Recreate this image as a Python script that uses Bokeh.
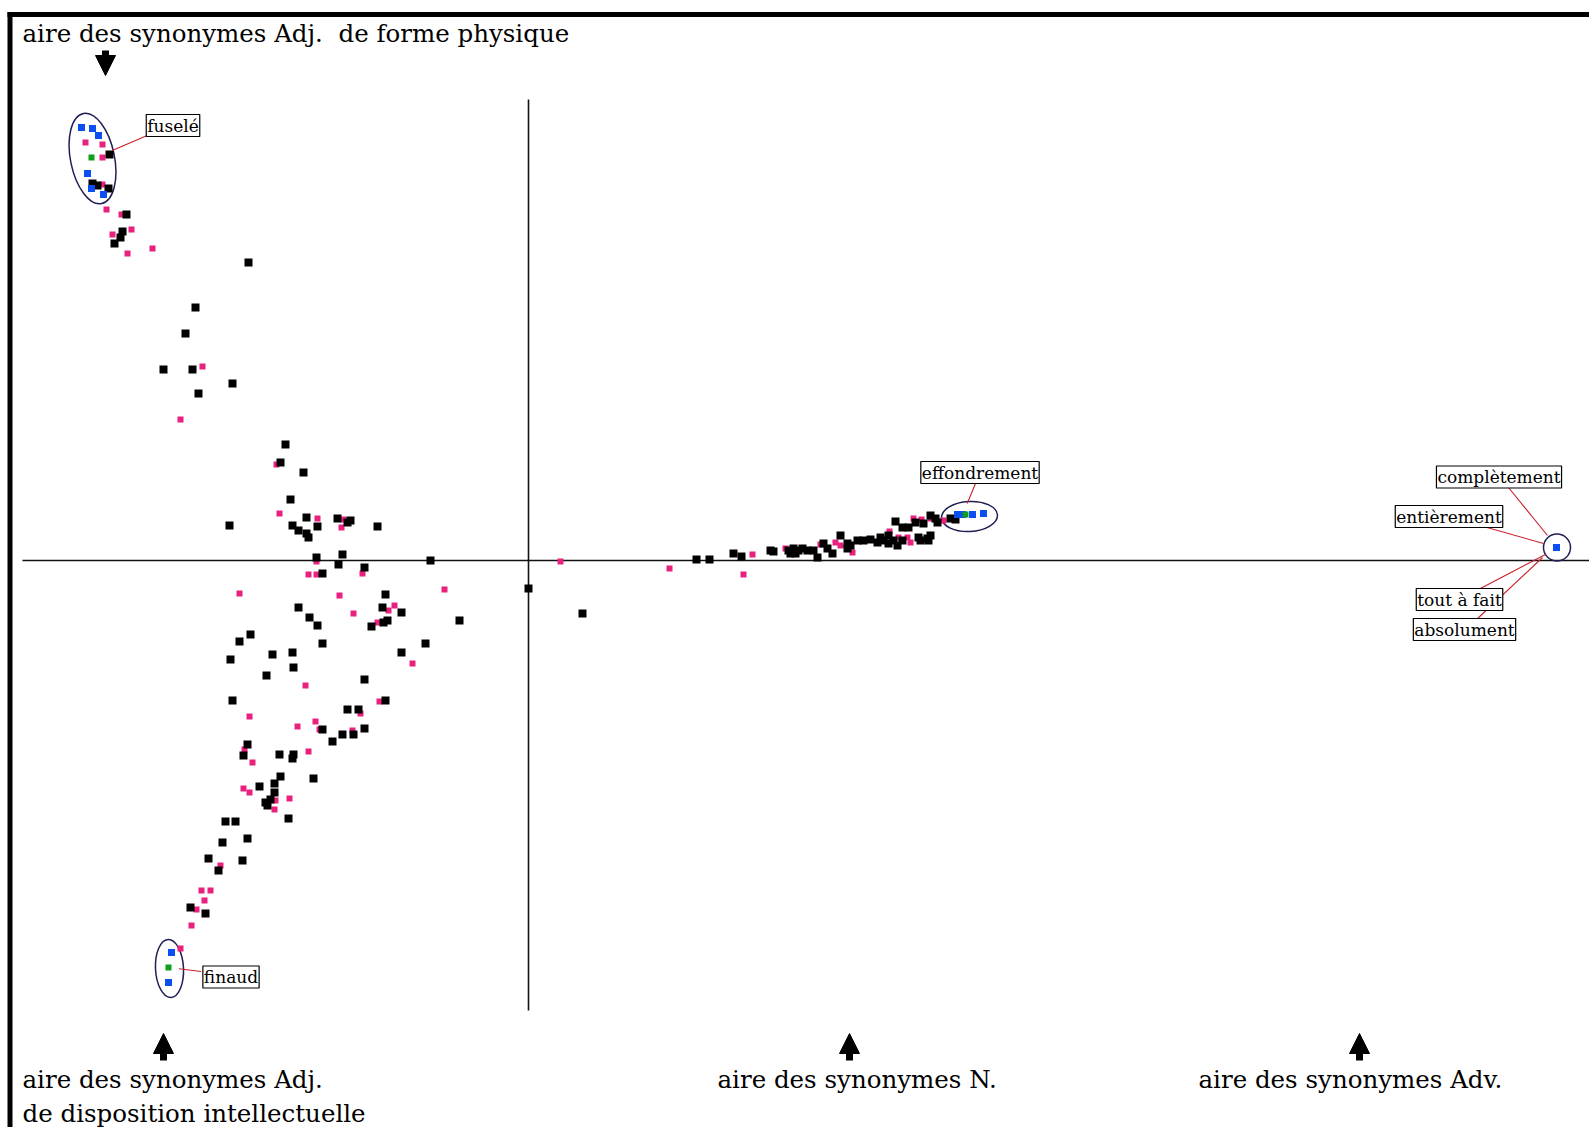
from bokeh.plotting import figure
from bokeh.models import Range1d, Label, Arrow, NormalHead
from bokeh.embed import file_html
from bokeh.resources import INLINE

# ---------------- data (factor coordinates, axis 1 = x, axis 2 = y) ----------------
black_x = [-4.19, -4.36, -4.31, -4.20, -4.02, -4.06, -4.08, -4.14,
           -2.80, -3.33, -3.43, -3.65, -3.36, -2.96, -3.30,
           -2.43, -2.48, -2.25, -2.38, -2.99, -2.36, -2.30, -2.22, -2.20, -2.22, -2.11,
           -1.91, -1.81, -1.78, -1.51,
           -2.12, -1.86, -1.90, -1.64, -0.98, -2.06,
           -1.43, -2.30, -1.46, -1.27, -2.19, -2.11, -1.45, -1.41, -1.57, -0.69, 0.00, 0.54,
           -1.03, -1.27, -1.64, -1.43, -1.81, -1.70, -1.64, -1.75, -1.86, -1.96, -2.06,
           -2.35, -2.36, -2.56, -2.62, -2.06, -2.78, -2.89, -2.98, -2.96,
           -2.81, -2.85, -2.49, -2.35, -2.36, -2.48, -2.15, -2.54, -2.69, -2.54, -2.58,
           -2.63, -2.61, -2.40, -3.03, -2.93, -3.06, -2.81, -3.20, -3.10, -2.86, -3.38, -3.23,
           1.68, 1.81, 2.05, 2.13, 2.42, 2.45, 2.60, 2.65, 2.70, 2.74, 2.62, 2.67, 2.79,
           2.85, 2.89, 2.95, 2.99, 3.04, 3.12, 3.19, 3.19, 3.22, 3.29, 3.35, 3.42, 3.49,
           3.52, 3.55, 3.60, 3.60, 3.65, 3.69, 3.74, 3.90, 3.92, 3.99, 4.02, 4.00,
           3.67, 3.74, 3.80, 3.87, 3.95, 4.02, 4.07, 4.09, 4.22, 4.27]
black_y = [4.06, 3.77, 3.75, 3.72, 3.46, 3.29, 3.23, 3.17,
           2.98, 2.53, 2.27, 1.91, 1.91, 1.77, 1.67,
           1.16, 0.98, 0.88, 0.61, 0.35, 0.35, 0.30, 0.27, 0.23, 0.43, 0.34,
           0.42, 0.38, 0.40, 0.34,
           0.03, 0.06, -0.04, -0.07, 0.00, -0.13,
           -0.34, -0.47, -0.47, -0.52, -0.57, -0.65, -0.62, -0.60, -0.66, -0.60, -0.28, -0.53,
           -0.83, -0.92, -1.19, -1.40, -1.49, -1.49, -1.68, -1.74, -1.74, -1.81, -1.69,
           -1.07, -0.92, -0.94, -1.15, -0.83, -0.74, -0.81, -0.99, -1.40,
           -1.84, -1.95, -1.94, -1.94, -1.98, -2.16, -2.18, -2.23, -2.26, -2.32, -2.39,
           -2.42, -2.45, -2.58, -2.61, -2.61, -2.82, -2.78, -2.98, -3.10, -3.00, -3.47, -3.53,
           0.01, 0.01, 0.07, 0.04, 0.10, 0.09, 0.10, 0.12, 0.10, 0.12, 0.07, 0.07, 0.10,
           0.10, 0.03, 0.17, 0.12, 0.07, 0.25, 0.12, 0.17, 0.15, 0.20, 0.20, 0.21, 0.18,
           0.23, 0.20, 0.25, 0.17, 0.20, 0.15, 0.20, 0.23, 0.20, 0.22, 0.25, 0.20,
           0.39, 0.33, 0.33, 0.38, 0.37, 0.45, 0.42, 0.38, 0.42, 0.41]

pink_x = [-4.43, -4.26, -4.26, -4.26, -4.22, -4.07, -3.97, -4.16, -4.01, -3.76,
          -3.26, -3.48,
          -2.52, -2.49, -2.11, -1.85, -1.87, -2.12, -1.66, -2.20, -2.12, -2.89, -1.89,
          -0.84, 0.32, -1.34, -1.40, -1.75, -1.51, -1.16, -1.49, -1.68, -1.76, -2.13,
          -2.31, -2.09, -2.23, -2.79, -2.84, -2.76, -2.20, -2.85, -2.79, -2.53, -2.39,
          -2.54, -3.08, -3.27, -3.18, -3.24, -3.32, -3.37, -3.48,
          1.41, 2.15, 2.24, 2.57, 2.92, 3.07, 3.12, 3.24, 3.61, 3.70, 3.79, 3.82,
          3.85, 3.93, 4.02, 4.15, 4.35]
pink_y = [4.18, 4.16, 4.03, 3.76, 3.51, 3.46, 3.31, 3.26, 3.07, 3.12,
          1.94, 1.41,
          0.96, 0.47, 0.42, 0.41, 0.33, -0.01, -0.13, -0.14, -0.14, -0.33, -0.35,
          -0.29, -0.01, -0.45, -0.50, -0.53, -0.62, -1.03, -1.41, -1.53, -1.70, -1.61,
          -1.66, -1.69, -1.25, -1.56, -1.89, -2.02, -1.91, -2.28, -2.32, -2.40, -2.38,
          -2.49, -3.05, -3.30, -3.30, -3.40, -3.49, -3.65, -3.88,
          -0.08, -0.14, 0.06, 0.12, 0.16, 0.18, 0.15, 0.08, 0.29, 0.23, 0.23, 0.18,
          0.42, 0.41, 0.42, 0.40, 0.46]

blue_x = [-4.47, -4.36, -4.30, -4.41, -4.37, -4.25, -3.57, -3.60,
          4.29, 4.34, 4.44, 4.55, 10.28]
blue_y = [4.33, 4.32, 4.25, 3.87, 3.72, 3.66, -3.92, -4.22,
          0.46, 0.46, 0.46, 0.47, 0.13]

green_x = [-4.37, -3.60, 4.37]
green_y = [4.03, -4.07, 0.46]

# labelled words
words = ["fuselé", "finaud", "effondrement", "complètement", "entièrement", "tout à fait", "absolument"]

area_top = "aire des synonymes Adj.\u00a0 de forme physique"
area_adj = ["aire des synonymes Adj.", "de disposition intellectuelle"]
area_n = "aire des synonymes N."
area_adv = "aire des synonymes Adv."

# ---------------- figure ----------------
X0, Y0 = 528.0, 560.0   # pixel position of the origin inside the picture
def sx(px):
    return (px - X0) / 100.0
def sy(py):
    return (Y0 - py) / 100.0

W, H = 1589, 1127
p = figure(width=W, height=H, x_range=Range1d(sx(0), sx(W)), y_range=Range1d(sy(H), sy(0)),
           output_backend="svg", toolbar_location=None, min_border=0,
           x_axis_location=None, y_axis_location=None)
p.grid.visible = False
p.outline_line_color = None
p.background_fill_color = "white"
p.border_fill_color = "white"

# frame (left and top border)
p.segment(x0=[sx(9.5), sx(7)], y0=[sy(11.5), sy(14)], x1=[sx(9.5), sx(W)], y1=[sy(H), sy(14)],
          line_color="black", line_width=[5, 5])

# axes
p.segment(x0=[sx(22), 0], y0=[0, sy(99)], x1=[sx(W), 0], y1=[0, sy(1010)],
          line_color="#111111", line_width=1.6)

# cluster outlines
p.ellipse(x=[-4.36], y=[4.02], width=[0.44], height=[0.92], angle=[0.2],
          fill_color=None, line_color="#1f1f55", line_width=1.5)
p.ellipse(x=[-3.59], y=[-4.08], width=[0.28], height=[0.58], angle=[0.05],
          fill_color=None, line_color="#1f1f55", line_width=1.5)
p.ellipse(x=[4.41], y=[0.44], width=[0.56], height=[0.30], angle=[0.05],
          fill_color=None, line_color="#1f1f55", line_width=1.5)
p.ellipse(x=[10.285], y=[0.13], width=[0.27], height=[0.27],
          fill_color=None, line_color="#1f1f55", line_width=1.5)

# points
p.scatter(x=pink_x, y=pink_y, marker="square", size=6, fill_color="#e8217f", line_color=None)
p.scatter(x=black_x, y=black_y, marker="square", size=8, fill_color="black", line_color=None)
p.scatter(x=blue_x, y=blue_y, marker="square", size=7, fill_color="#0b4ff2", line_color=None)
p.scatter(x=green_x, y=green_y, marker="square", size=6, fill_color="#0c9e1c", line_color=None)

# leader lines (pixel positions of ends)
lead = [((111.7, 150), (146.7, 135)),
        ((178.3, 968.3), (200.7, 971)),
        ((966.7, 503), (975, 483)),
        ((1547, 535), (1508, 487)),
        ((1543, 543), (1483, 526)),
        ((1545, 554), (1478, 589)),
        ((1542, 557), (1475, 620))]
p.segment(x0=[sx(a[0]) for a, b in lead], y0=[sy(a[1]) for a, b in lead],
          x1=[sx(b[0]) for a, b in lead], y1=[sy(b[1]) for a, b in lead],
          line_color="#c8202a", line_width=1.1)

# word labels in boxes
label_pos = [(172.5, 125), (230.5, 976.5), (979.5, 472), (1498.5, 476.5),
             (1448.5, 516), (1459, 599), (1464, 629)]
for w, (lx, ly) in zip(words, label_pos):
    p.add_layout(Label(x=sx(lx), y=sy(ly), text=w, text_align="center", text_baseline="middle",
                       text_font="DejaVu Serif", text_font_size="17px", text_color="black",
                       background_fill_color="white", border_line_color="black",
                       border_line_width=1.2, padding=1))

# area captions
def caption(txt, px, py):
    p.add_layout(Label(x=sx(px), y=sy(py), text=txt, text_align="left", text_baseline="alphabetic",
                       text_font="DejaVu Serif", text_font_size="24.5px", text_color="black"))

caption(area_top, 22, 33)
caption(area_adj[0], 22, 1079)
caption(area_adj[1], 22, 1113)
caption(area_n, 717, 1079)
caption(area_adv, 1198, 1079)

# thick arrows
def arrow(px, py0, py1):
    p.add_layout(Arrow(x_start=sx(px), y_start=sy(py0), x_end=sx(px), y_end=sy(py1),
                       line_width=7, line_color="black",
                       end=NormalHead(size=20, fill_color="black", line_color="black", line_width=1)))

arrow(105, 50, 75)
arrow(163, 1060, 1033)
arrow(849, 1060, 1033)
arrow(1359, 1060, 1033)

open("out.html", "w").write(file_html(p, INLINE))
